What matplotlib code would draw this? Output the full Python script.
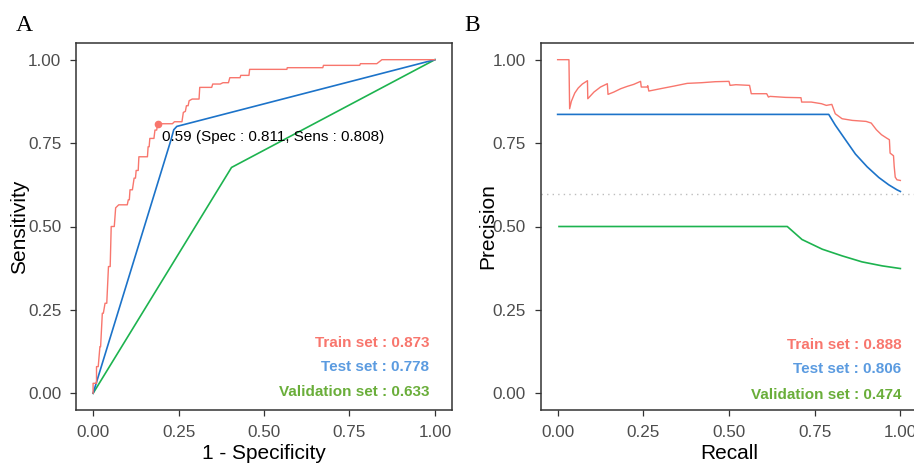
import matplotlib
matplotlib.use("Agg")
import matplotlib.pyplot as plt

plt.rcParams['font.family'] = ['Liberation Sans', 'DejaVu Sans']

# ---------------- data ----------------
# ROC: train (red) step curve
roc_train_fpr = [0.0, 0.0, 0.01, 0.01, 0.015, 0.02, 0.022, 0.027, 0.03, 0.035, 0.04, 0.045, 0.05,
                 0.053, 0.062, 0.066, 0.075, 0.1, 0.103, 0.106, 0.108, 0.115, 0.12, 0.124, 0.126,
                 0.132, 0.134, 0.159, 0.161, 0.164, 0.166, 0.178, 0.181, 0.186, 0.189, 0.232,
                 0.238, 0.26, 0.264, 0.27, 0.273, 0.278, 0.281, 0.29, 0.31, 0.312, 0.347, 0.35,
                 0.372, 0.38, 0.396, 0.4, 0.43, 0.432, 0.456, 0.458, 0.567, 0.568, 0.672, 0.674,
                 0.78, 0.782, 0.83, 0.845, 1.0]
roc_train_tpr = [0.0, 0.03, 0.03, 0.08, 0.08, 0.14, 0.14, 0.24, 0.24, 0.27, 0.27, 0.38, 0.38,
                 0.5, 0.5, 0.556, 0.565, 0.565, 0.58, 0.58, 0.61, 0.61, 0.645, 0.645, 0.668,
                 0.668, 0.709, 0.709, 0.739, 0.739, 0.764, 0.764, 0.789, 0.789, 0.808, 0.808,
                 0.814, 0.814, 0.842, 0.845, 0.862, 0.862, 0.877, 0.882, 0.882, 0.917, 0.917, 0.927,
                 0.927, 0.931, 0.931, 0.946, 0.946, 0.953, 0.953, 0.971, 0.971, 0.976, 0.976, 0.983,
                 0.983, 0.988, 0.988, 1.0, 1.0]
roc_test_fpr = [0.0, 0.228, 0.236, 0.245, 1.0]
roc_test_tpr = [0.0, 0.76, 0.79, 0.80, 1.0]
roc_val_fpr = [0.0, 0.405, 1.0]
roc_val_tpr = [0.0, 0.677, 1.0]
best_point = (0.189, 0.808)
best_label = "0.59 (Spec : 0.811, Sens : 0.808)"
roc_auc_labels = ["Train set : 0.873", "Test set : 0.778", "Validation set : 0.633"]

# PR curves
pr_train_rec = [0.0, 0.033, 0.035, 0.04, 0.05, 0.06, 0.072, 0.087, 0.088, 0.106, 0.125, 0.145,
                0.147, 0.164, 0.184, 0.203, 0.222, 0.242, 0.244, 0.261, 0.263, 0.266, 0.3, 0.34,
                0.378, 0.42, 0.46, 0.5, 0.503, 0.52, 0.56, 0.565, 0.61, 0.615, 0.62, 0.665, 0.71,
                0.712, 0.74, 0.77, 0.784, 0.8, 0.81, 0.83, 0.86, 0.9, 0.915, 0.93, 0.945, 0.96,
                0.968, 0.97, 0.98, 0.982, 0.985, 0.99, 1.0]
pr_train_prec = [1.0, 1.0, 0.853, 0.875, 0.9, 0.915, 0.927, 0.937, 0.883, 0.903, 0.918, 0.928,
                 0.896, 0.903, 0.913, 0.92, 0.926, 0.935, 0.918, 0.918, 0.922, 0.906, 0.913, 0.921,
                 0.929, 0.931, 0.934, 0.935, 0.923, 0.925, 0.923, 0.898, 0.898, 0.888, 0.89, 0.887,
                 0.886, 0.873, 0.873, 0.868, 0.863, 0.866, 0.838, 0.823, 0.818, 0.815, 0.81, 0.79,
                 0.775, 0.765, 0.76, 0.72, 0.712, 0.68, 0.648, 0.64, 0.638]
pr_test_rec = [0.0, 0.791, 0.810, 0.835, 0.869, 0.903, 0.937, 0.966, 0.99, 1.0]
pr_test_prec = [0.836, 0.836, 0.804, 0.767, 0.717, 0.679, 0.647, 0.625, 0.610, 0.605]
pr_val_rec = [0.004, 0.670, 0.713, 0.772, 0.830, 0.888, 0.947, 1.0]
pr_val_prec = [0.5, 0.5, 0.461, 0.432, 0.412, 0.394, 0.382, 0.374]
pr_baseline = 0.597
pr_auc_labels = ["Train set : 0.888", "Test set : 0.806", "Validation set : 0.474"]

ticks = [0.0, 0.25, 0.5, 0.75, 1.0]
tick_labels = ["0.00", "0.25", "0.50", "0.75", "1.00"]

# ---------------- styles ----------------
RED = "#F8766D"
BLUE = "#1C73C9"
GREEN = "#1DB34F"
TXT_COLORS = ["#F8766D", "#5B9BE0", "#6AAE3A"]

W, H = 914, 463
fig = plt.figure(figsize=(W / 100, H / 100), dpi=100)

def make_axes(left_px, right_px):
    return fig.add_axes([left_px / W, (H - 410) / H, (right_px - left_px) / W, 367 / H])

def style(ax, xlabel, ylabel, ylab_x):
    ax.set_xlim(-0.05, 1.05)
    ax.set_ylim(-0.05, 1.05)
    ax.set_xticks(ticks)
    ax.set_xticklabels(tick_labels)
    ax.set_yticks(ticks)
    ax.set_yticklabels(tick_labels)
    ax.tick_params(axis='both', length=4.3, width=0.9, color='#333333',
                   labelcolor='#4D4D4D', labelsize=12.3, pad=6.3)
    for s in ax.spines.values():
        s.set_color('#333333')
        s.set_linewidth(1.1)
    ax.set_xlabel(xlabel, fontsize=15, color='black')
    ax.set_ylabel(ylabel, fontsize=15, color='black')
    ax.xaxis.set_label_coords(0.5, -0.0926)
    ax.yaxis.set_label_coords(ylab_x, 0.5)

# Panel A
axA = make_axes(76, 452)
axA.plot(roc_val_fpr, roc_val_tpr, color=GREEN, lw=1.2, zorder=3)
axA.plot(roc_test_fpr, roc_test_tpr, color=BLUE, lw=1.2, zorder=4)
axA.plot(roc_train_fpr, roc_train_tpr, color=RED, lw=1.0, zorder=5)
axA.plot([best_point[0]], [best_point[1]], 'o', color=RED, ms=4.5, zorder=6)
axA.text(0.203, 0.769, best_label, fontsize=11, color='black', ha='left', va='center', zorder=7)
for lab, c, y in zip(roc_auc_labels, TXT_COLORS, [0.152, 0.079, 0.004]):
    axA.text(0.983, y, lab, color=c, fontsize=11, fontweight='bold', ha='right', va='center')
style(axA, "1 - Specificity", "Sensitivity", -0.126)

# Panel B
axB = make_axes(540.5, 917.5)
axB.axhline(pr_baseline, color='#BDBDBD', lw=1.0, ls=(0, (1, 3)), zorder=2)
axB.plot(pr_val_rec, pr_val_prec, color=GREEN, lw=1.2, zorder=3)
axB.plot(pr_test_rec, pr_test_prec, color=BLUE, lw=1.2, zorder=4)
axB.plot(pr_train_rec, pr_train_prec, color=RED, lw=1.0, zorder=5)
for lab, c, y in zip(pr_auc_labels, TXT_COLORS, [0.144, 0.072, -0.005]):
    axB.text(1.003, y, lab, color=c, fontsize=11, fontweight='bold', ha='right', va='center')
style(axB, "Recall", "Precision", -0.115)

fig.text(15.5 / W, 1 - 25.5 / H, "A", fontsize=17, family='Liberation Serif', ha='left', va='center')
fig.text(464.5 / W, 1 - 25.5 / H, "B", fontsize=17, family='Liberation Serif', ha='left', va='center')

fig.savefig("out.png", dpi=100)
